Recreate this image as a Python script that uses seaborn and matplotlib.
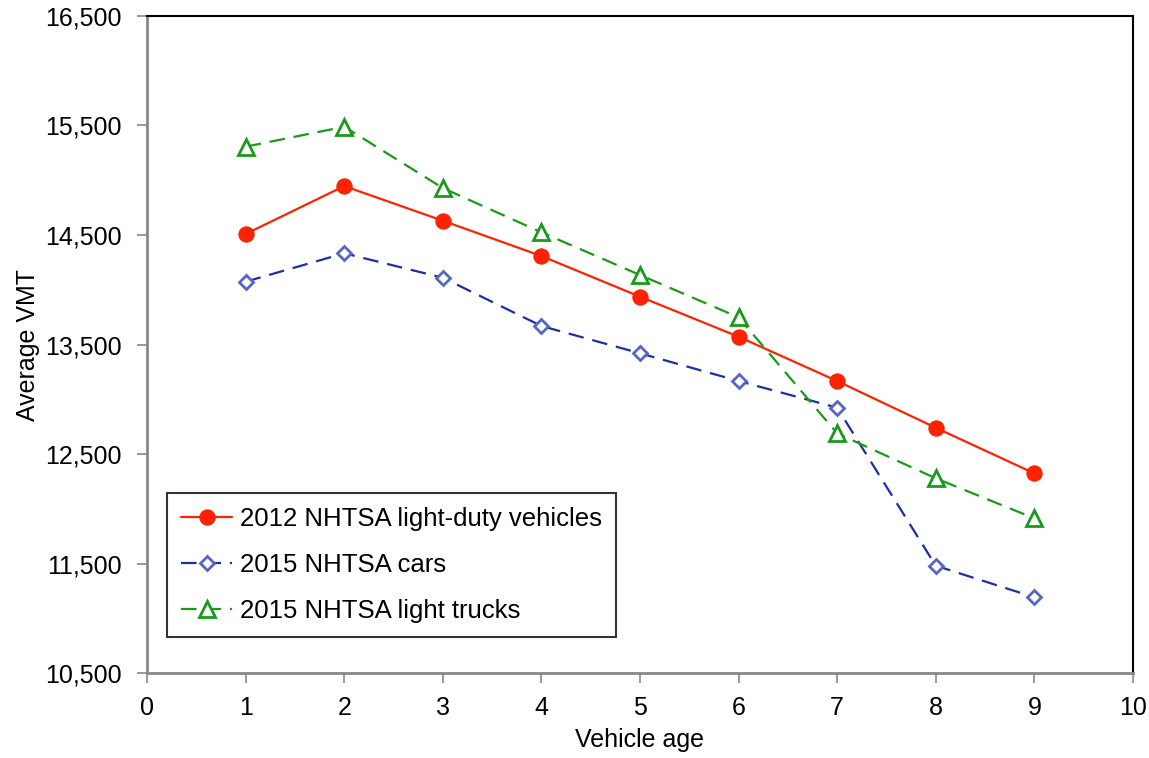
import matplotlib
matplotlib.use("Agg")
import matplotlib.pyplot as plt
import seaborn as sns
import pandas as pd
from matplotlib.ticker import FuncFormatter, FixedLocator, MultipleLocator

# Average vehicle miles traveled by vehicle age
ages = [1, 2, 3, 4, 5, 6, 7, 8, 9]
ldv_2012 = [14508, 14945, 14629, 14307, 13936, 13571, 13167, 12741, 12325]
cars_2015 = [14073, 14332, 14109, 13669, 13420, 13167, 12924, 11483, 11195]
trucks_2015 = [15304, 15486, 14927, 14523, 14134, 13748, 12690, 12280, 11915]

series_names = [
    "2012 NHTSA light-duty vehicles",
    "2015 NHTSA cars",
    "2015 NHTSA light trucks",
]
series_values = [ldv_2012, cars_2015, trucks_2015]
y_ticks = [10500, 11500, 12500, 13500, 14500, 15500, 16500]

df = pd.concat(
    [pd.DataFrame({"age": ages, "vmt": vals, "series": name})
     for name, vals in zip(series_names, series_values)],
    ignore_index=True,
)

sns.set_theme(style="white")
plt.rcParams["font.family"] = ["Liberation Sans", "DejaVu Sans"]
plt.rcParams["text.color"] = "black"
plt.rcParams["axes.labelcolor"] = "black"
plt.rcParams["xtick.color"] = "black"
plt.rcParams["ytick.color"] = "black"

fig = plt.figure(figsize=(11.49, 7.58), dpi=100)
ax = fig.add_axes([0.128, 0.1115, 0.858, 0.868])

styles = {
    series_names[0]: dict(color="#ff2200", marker="o", markersize=11,
                          markerfacecolor="#ff2200", markeredgecolor="#ff2200",
                          linestyle="-"),
    series_names[1]: dict(color="#1a2fa8", marker="D", markersize=7.5,
                          markerfacecolor="white", markeredgecolor="#5566c4",
                          markeredgewidth=2, linestyle="--"),
    series_names[2]: dict(color="#1a9a1a", marker="^", markersize=11.5,
                          markerfacecolor="white", markeredgecolor="#1a9a1a",
                          markeredgewidth=2, linestyle="--"),
}
dash_patterns = {series_names[1]: (7, 4), series_names[2]: (7, 4)}

for name in series_names:
    sub = df[df["series"] == name]
    sns.lineplot(data=sub, x="age", y="vmt", ax=ax, label=name,
                 linewidth=1.6, **styles[name])
    if name in dash_patterns:
        ax.lines[-1].set_dashes(dash_patterns[name])

ax.set_xlim(0, 10)
ax.set_ylim(10500, 16500)
ax.xaxis.set_major_locator(MultipleLocator(1))
ax.yaxis.set_major_locator(FixedLocator(y_ticks))
ax.yaxis.set_major_formatter(FuncFormatter(lambda v, p: f"{int(v):,}"))

ax.set_xlabel("Vehicle age", fontsize=18, labelpad=6)
ax.set_ylabel("Average VMT", fontsize=18, labelpad=4)
ax.tick_params(axis="both", which="major", labelsize=18, direction="out",
               length=7, width=1.2, color="#888888", pad=9,
               labelcolor="black", bottom=True, left=True)
ax.tick_params(axis="y", pad=11)

for side in ("left", "bottom"):
    ax.spines[side].set_color("#888888")
    ax.spines[side].set_linewidth(2)
for side in ("top", "right"):
    ax.spines[side].set_color("black")
    ax.spines[side].set_linewidth(1.5)
    ax.spines[side].set_visible(True)

leg = ax.legend(loc="lower left", bbox_to_anchor=(0.02, 0.055), fontsize=18.5,
                frameon=True, fancybox=False, edgecolor="black",
                handlelength=2.0, handletextpad=0.3, borderpad=0.55,
                labelspacing=0.85, borderaxespad=0)
leg.get_frame().set_linewidth(1.5)
for t in leg.get_texts():
    t.set_color("black")

fig.savefig("out.png", dpi=100, facecolor="white")
